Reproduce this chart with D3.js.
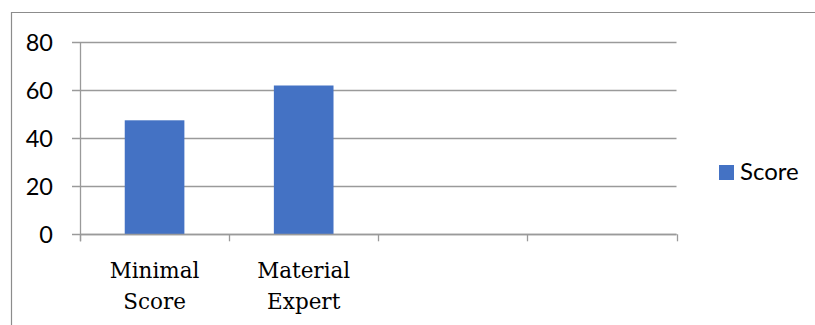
<!DOCTYPE html>
<html>
<head>
<meta charset="utf-8">
<script src="https://cdn.jsdelivr.net/npm/d3@7"></script>
<style>
  html, body { margin: 0; padding: 0; background: #fff; }
  svg { display: block; }
</style>
</head>
<body>
<svg id="chart" width="815" height="325"></svg>
<script>
// Category labels (two lines each) and the single "Score" series
const categories = [["Minimal", "Score"], ["Material", "Expert"], [""], [""]];
const scoreValues = [47.5, 62, null, null];
const yTicks = [0, 20, 40, 60, 80];
const seriesName = "Score";

const svg = d3.select("#chart");
const W = 815, H = 325;
const plot = { left: 80, right: 676.5, top: 42.3, bottom: 234.3 };
const barColor = "#4472C4";
const gridColor = "#9a9a9a";
const numFont = "Lato, 'Open Sans', sans-serif";
const catFont = "'DejaVu Serif', serif";

// outer chart frame (left and top edges visible)
svg.append("path")
  .attr("d", `M11.5,${H} V12.5 H${W}`)
  .attr("fill", "none")
  .attr("stroke", "#8c8c8c")
  .attr("stroke-width", 1.2);

const x = d3.scaleBand()
  .domain(d3.range(categories.length))
  .range([plot.left, plot.right])
  .paddingInner(0).paddingOuter(0);

const y = d3.scaleLinear()
  .domain([0, 80])
  .range([plot.bottom, plot.top]);

// horizontal gridlines, extending left as tick marks
svg.append("g")
  .selectAll("line")
  .data(yTicks)
  .join("line")
  .attr("x1", plot.left - 8)
  .attr("x2", plot.right)
  .attr("y1", d => Math.round(y(d)) + 0.5)
  .attr("y2", d => Math.round(y(d)) + 0.5)
  .attr("stroke", gridColor)
  .attr("stroke-width", 1.3);

// y axis labels
svg.append("g")
  .selectAll("text")
  .data(yTicks)
  .join("text")
  .attr("x", 53)
  .attr("y", d => y(d))
  .attr("dy", "0.36em")
  .attr("text-anchor", "end")
  .attr("font-family", numFont)
  .attr("font-size", 23.5)
  .attr("fill", "#000")
  .text(d => d);

// bars
svg.append("g")
  .selectAll("rect")
  .data(scoreValues.map((v, i) => ({ v, i })).filter(d => d.v != null))
  .join("rect")
  .attr("x", d => x(d.i) + x.bandwidth() * 0.3)
  .attr("width", x.bandwidth() * 0.4)
  .attr("y", d => y(d.v))
  .attr("height", d => y(0) - y(d.v))
  .attr("fill", barColor);

// y axis line
svg.append("line")
  .attr("x1", plot.left + 0.5).attr("x2", plot.left + 0.5)
  .attr("y1", plot.top).attr("y2", plot.bottom + 7)
  .attr("stroke", gridColor).attr("stroke-width", 1.3);

// x axis line and category ticks
svg.append("line")
  .attr("x1", plot.left).attr("x2", plot.right)
  .attr("y1", Math.round(y(0)) + 0.5).attr("y2", Math.round(y(0)) + 0.5)
  .attr("stroke", gridColor).attr("stroke-width", 1.3);

const boundaries = d3.range(categories.length + 1).map(i => plot.left + i * x.bandwidth());
svg.append("g")
  .selectAll("line")
  .data(boundaries)
  .join("line")
  .attr("x1", d => Math.round(d) + 0.5)
  .attr("x2", d => Math.round(d) + 0.5)
  .attr("y1", y(0))
  .attr("y2", y(0) + 7)
  .attr("stroke", gridColor)
  .attr("stroke-width", 1.3);

// category labels
const cat = svg.append("g")
  .selectAll("text")
  .data(categories)
  .join("text")
  .attr("x", (d, i) => x(i) + x.bandwidth() / 2)
  .attr("y", 277.5)
  .attr("text-anchor", "middle")
  .attr("font-family", catFont)
  .attr("font-size", 21.5)
  .attr("fill", "#000");
cat.selectAll("tspan")
  .data(d => d)
  .join("tspan")
  .attr("x", function () { return d3.select(this.parentNode).attr("x"); })
  .attr("dy", (d, j) => j === 0 ? 0 : 31.5)
  .text(d => d);

// legend
const lg = svg.append("g");
lg.append("rect")
  .attr("x", 719).attr("y", 165)
  .attr("width", 15).attr("height", 15)
  .attr("fill", barColor);
lg.append("text")
  .attr("x", 740).attr("y", 180)
  .attr("font-family", numFont)
  .attr("font-size", 24)
  .attr("fill", "#000")
  .text(seriesName);
</script>
</body>
</html>
